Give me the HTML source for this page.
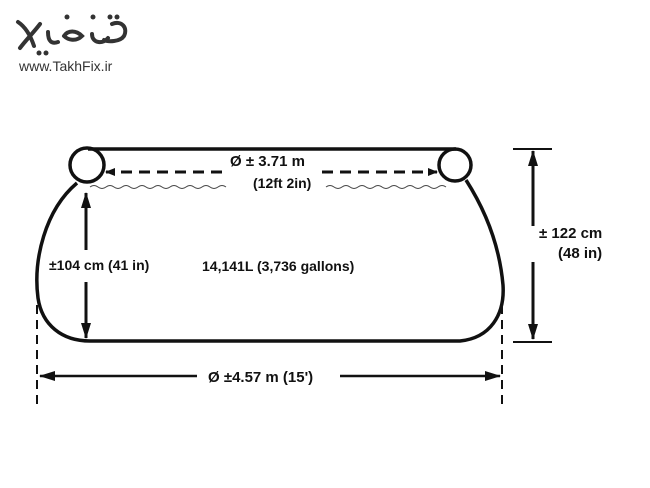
<!DOCTYPE html>
<html><head><style>
body{margin:0;background:#fff;width:650px;height:488px;overflow:hidden}
svg{display:block}
text{font-family:"Liberation Sans",Arial,sans-serif;font-weight:bold;fill:#111}
</style></head><body>
<svg width="650" height="488" viewBox="0 0 650 488">
<defs>
<marker id="a" markerWidth="10" markerHeight="8" refX="9" refY="4" orient="auto" markerUnits="userSpaceOnUse"><path d="M0,0 L10,4 L0,8 z" fill="#111"/></marker>
<marker id="b" markerWidth="16" markerHeight="10" refX="15" refY="5" orient="auto" markerUnits="userSpaceOnUse"><path d="M0,0 L16,5 L0,10 z" fill="#111"/></marker>
</defs>
<!-- logo -->
<g fill="none" stroke="#333" stroke-width="4" stroke-linecap="round">
<path d="M18,22 C24,26 30,34 34,46"/>
<path d="M40,24 C34,32 26,40 20,48"/>
<path d="M48,32 C48,42 52,44 58,42"/>
<path d="M64,36 C68,30 76,30 82,36 C76,42 68,40 64,36"/>
<path d="M92,34 C92,44 104,44 108,38"/>
<path d="M112,24 C122,20 128,28 124,36 C120,42 108,42 104,40"/>
</g>
<g fill="#333"><circle cx="67" cy="17" r="2.5"/><circle cx="93" cy="17" r="2.5"/><circle cx="110" cy="17" r="2.5"/><circle cx="117" cy="17" r="2.5"/><circle cx="39" cy="53" r="2.5"/><circle cx="46" cy="53" r="2.5"/></g>
<text x="19" y="71" font-size="14" style="font-weight:normal;fill:#333">www.TakhFix.ir</text>
<!-- pool -->
<g fill="none" stroke="#111" stroke-width="3.5">
<line x1="88" y1="149" x2="456" y2="149"/>
<circle cx="87" cy="165" r="17"/>
<circle cx="455" cy="165" r="16"/>
<path d="M77,183 C45,210 33,260 38,298 C42,325 62,341 90,341 L460,341 C490,338 505,315 503,285 C499,240 482,205 466,180"/>
</g>
<!-- waves -->
<path d="M90,187 q4,-3 8,0 t8,0 t8,0 t8,0 t8,0 t8,0 t8,0 t8,0 t8,0 t8,0 t8,0 t8,0 t8,0 t8,0 t8,0 t8,0 t8,0" fill="none" stroke="#444" stroke-width="1"/>
<path d="M326,187 q4,-3 8,0 t8,0 t8,0 t8,0 t8,0 t8,0 t8,0 t8,0 t8,0 t8,0 t8,0 t8,0 t8,0 t8,0 t8,0" fill="none" stroke="#444" stroke-width="1"/>
<!-- top dashed arrow -->
<line x1="222" y1="172" x2="106" y2="172" stroke="#111" stroke-width="3" stroke-dasharray="11,7" marker-end="url(#a)"/>
<line x1="322" y1="172" x2="437" y2="172" stroke="#111" stroke-width="3" stroke-dasharray="11,7" marker-end="url(#a)"/>
<text x="230" y="166" font-size="15">Ø ± 3.71 m</text>
<text x="253" y="188" font-size="14">(12ft 2in)</text>
<!-- left vertical arrow -->
<line x1="86" y1="250" x2="86" y2="193" stroke="#111" stroke-width="3" marker-end="url(#b)"/>
<line x1="86" y1="282" x2="86" y2="338" stroke="#111" stroke-width="3" marker-end="url(#b)"/>
<text x="49" y="270" font-size="14">±104 cm (41 in)</text>
<text x="202" y="271" font-size="14">14,141L (3,736 gallons)</text>
<!-- bottom -->
<line x1="37" y1="305" x2="37" y2="405" stroke="#111" stroke-width="2" stroke-dasharray="9,6"/>
<line x1="502" y1="305" x2="502" y2="405" stroke="#111" stroke-width="2" stroke-dasharray="9,6"/>
<line x1="197" y1="376" x2="40" y2="376" stroke="#111" stroke-width="2.5" marker-end="url(#b)"/>
<line x1="340" y1="376" x2="500" y2="376" stroke="#111" stroke-width="2.5" marker-end="url(#b)"/>
<text x="208" y="382" font-size="15">Ø  ±4.57 m (15')</text>
<!-- right dim -->
<line x1="513" y1="149" x2="552" y2="149" stroke="#111" stroke-width="2"/>
<line x1="513" y1="342" x2="552" y2="342" stroke="#111" stroke-width="2"/>
<line x1="533" y1="226" x2="533" y2="151" stroke="#111" stroke-width="3" marker-end="url(#b)"/>
<line x1="533" y1="262" x2="533" y2="339" stroke="#111" stroke-width="3" marker-end="url(#b)"/>
<text x="539" y="238" font-size="15">± 122 cm</text>
<text x="558" y="258" font-size="15">(48 in)</text>
</svg>
</body></html>
